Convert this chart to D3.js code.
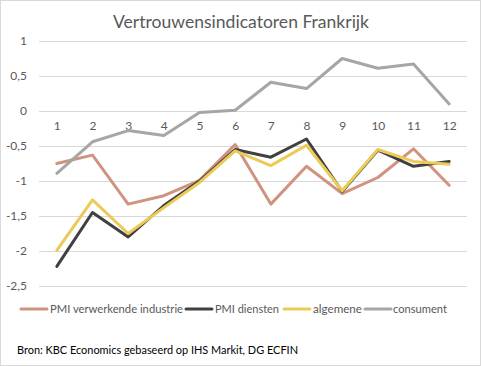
<!DOCTYPE html>
<html>
<head>
<meta charset="utf-8">
<script src="https://cdn.jsdelivr.net/npm/d3@7"></script>
<style>
html,body{margin:0;padding:0;background:#fff;}
svg{display:block;}
</style>
</head>
<body>
<svg id="chart" width="481" height="366"></svg>
<script>
const categories = ["1","2","3","4","5","6","7","8","9","10","11","12"];
const seriesNames = ["PMI verwerkende industrie","PMI diensten","algemene","consument"];
const pmiIndustrie = [-0.75,-0.63,-1.33,-1.21,-0.99,-0.48,-1.33,-0.79,-1.18,-0.95,-0.54,-1.06];
const pmiDiensten  = [-2.22,-1.45,-1.80,-1.35,-1.00,-0.55,-0.66,-0.40,-1.15,-0.56,-0.79,-0.72];
const algemene     = [-1.99,-1.27,-1.75,-1.38,-1.02,-0.57,-0.78,-0.49,-1.14,-0.55,-0.72,-0.76];
const consument    = [-0.89,-0.44,-0.28,-0.35,-0.02,0.01,0.41,0.32,0.75,0.61,0.67,0.10];
const yTicks = [1,0.5,0,-0.5,-1,-1.5,-2,-2.5];
const title = "Vertrouwensindicatoren Frankrijk";
const source = "Bron: KBC Economics gebaseerd op IHS Markit, DG ECFIN";

const colors = ["#D0937F","#404040","#EBCB55","#A6A6A6"];
const seriesData = [pmiIndustrie, pmiDiensten, algemene, consument];

const svg = d3.select("#chart");
const font = "Lato, 'Open Sans', sans-serif";
const txtColor = "#595959";

svg.append("rect").attr("x",0.5).attr("y",0.5).attr("width",480).attr("height",365)
  .attr("fill","#fff").attr("stroke","#d9d9d9");

const x = d3.scalePoint().domain(categories).range([39,467]).padding(0.5);
const y = d3.scaleLinear().domain([-2.5,1]).range([286,41]);

// gridlines
svg.append("g").selectAll("line").data(yTicks).join("line")
  .attr("x1",39).attr("x2",467)
  .attr("y1",d=>Math.round(y(d))+0.5).attr("y2",d=>Math.round(y(d))+0.5)
  .attr("stroke","#d9d9d9").attr("stroke-width",1);

// y labels
const fmt = d => String(d).replace(".",",");
svg.append("g").selectAll("text").data(yTicks).join("text")
  .attr("x",27).attr("y",d=>y(d)).attr("dy","0.35em")
  .attr("text-anchor","end").attr("font-family",font).attr("font-size",12)
  .attr("fill",txtColor).text(fmt);

// x labels (axis at 0)
const xAxis = d3.axisBottom(x).tickSize(0).tickPadding(10);
const gx = svg.append("g").attr("transform",`translate(0,${y(0)})`).call(xAxis);
gx.select(".domain").remove();
gx.selectAll("text").attr("font-family",font).attr("font-size",12).attr("fill",txtColor);

// lines
const line = d3.line().x((d,i)=>x(categories[i])).y(d=>y(d));
svg.append("g").selectAll("path").data(seriesData).join("path")
  .attr("d",line).attr("fill","none")
  .attr("stroke",(d,i)=>colors[i]).attr("stroke-width",3)
  .attr("stroke-linejoin","round").attr("stroke-linecap","round");

// title
svg.append("text").attr("x",241).attr("y",28).attr("text-anchor","middle")
  .attr("font-family",font).attr("font-size",18).attr("fill",txtColor)
  .attr("textLength",256).attr("lengthAdjust","spacingAndGlyphs").text(title);

// legend
const legend = [
  {lx1:21,lx2:47,tx:50,tw:133},
  {lx1:186,lx2:212,tx:215,tw:64},
  {lx1:284,lx2:310,tx:313,tw:49},
  {lx1:365,lx2:391,tx:393,tw:54}
];
const lg = svg.append("g");
legend.forEach((l,i)=>{
  lg.append("line").attr("x1",l.lx1).attr("x2",l.lx2).attr("y1",309).attr("y2",309)
    .attr("stroke",colors[i]).attr("stroke-width",3).attr("stroke-linecap","round");
  lg.append("text").attr("x",l.tx).attr("y",309).attr("dy","0.35em")
    .attr("font-family",font).attr("font-size",12).attr("fill",txtColor)
    .attr("textLength",l.tw).attr("lengthAdjust","spacingAndGlyphs").text(seriesNames[i]);
});

// source
svg.append("text").attr("x",17).attr("y",350).attr("dy","0.35em")
  .attr("font-family",font).attr("font-size",12).attr("fill","#000")
  .attr("textLength",281).attr("lengthAdjust","spacingAndGlyphs").text(source);
</script>
</body>
</html>
